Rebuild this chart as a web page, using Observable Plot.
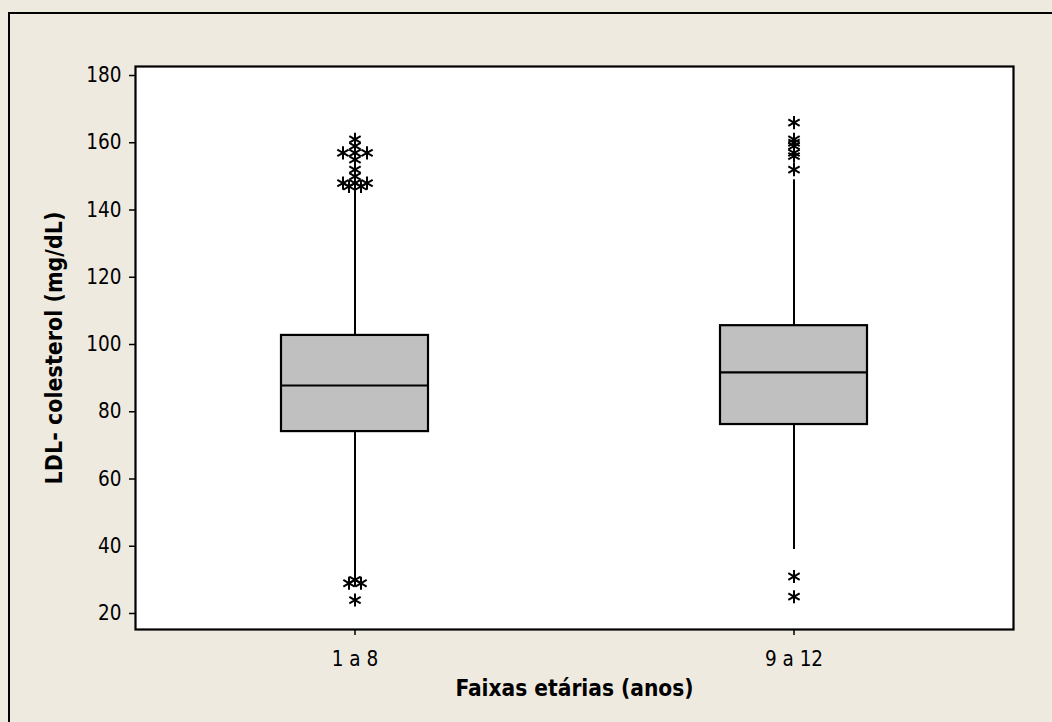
<!DOCTYPE html>
<html>
<head>
<meta charset="utf-8">
<script src="https://cdn.jsdelivr.net/npm/d3@7"></script>
<script src="https://cdn.jsdelivr.net/npm/@observablehq/plot@0.6"></script>
<style>
  html, body { margin: 0; padding: 0; background: #eeeae0; }
  #wrap { position: relative; width: 1052px; height: 722px; overflow: hidden; }
  #border { position: absolute; left: 8px; top: 12px; width: 1100px; height: 780px; border-top: 2px solid #000; border-left: 2px solid #000; pointer-events: none; }
</style>
</head>
<body>
<div id="wrap"><div id="border"></div></div>
<script>
// Age groups and LDL-cholesterol box summaries (mg/dL)
const grupos = ["1 a 8", "9 a 12"];
const q1 = [74.1, 76.2];
const mediana = [87.8, 91.7];
const q3 = [102.7, 105.6];
const bigodeInf = [31, 39];
const bigodeSup = [146, 149];

// Outlying observations per group (repeated values are drawn side by side)
const outliers18 = [161, 159, 157, 157, 157, 155, 152, 150, 148, 148, 148, 147, 147, 30, 29, 29, 24];
const outliers912 = [166, 161, 160, 159, 157, 156, 152, 31, 25];

const yTicks = [20, 40, 60, 80, 100, 120, 140, 160, 180];
const tituloY = "LDL- colesterol (mg/dL)";
const tituloX = "Faixas etárias (anos)";

const caixas = grupos.map((g, i) => ({
  grupo: g, q1: q1[i], mediana: mediana[i], q3: q3[i], lo: bigodeInf[i], hi: bigodeSup[i]
}));

// Tied values get a rank so they can be spread horizontally
function withTies(grupo, values) {
  const counts = d3.rollup(values, v => v.length, v => v);
  const seen = new Map();
  return values.map(v => {
    const n = counts.get(v);
    const k = seen.get(v) || 0;
    seen.set(v, k + 1);
    return { grupo, valor: v, off: k - (n - 1) / 2 };
  });
}
const pontos = [...withTies(grupos[0], outliers18), ...withTies(grupos[1], outliers912)];
const offsets = Array.from(new Set(pontos.map(d => d.off)));

const font = "'DejaVu Sans Condensed', 'DejaVu Sans', sans-serif";
const inset = 146;

const chart = Plot.plot({
  width: 1052,
  height: 722,
  marginLeft: 135,
  marginRight: 39,
  marginTop: 66,
  marginBottom: 93,
  style: { background: "transparent", fontFamily: font, fontSize: "20.5px", color: "#000" },
  x: { type: "band", domain: grupos, padding: 0 },
  y: { domain: [15.24, 182.68] },
  marks: [
    Plot.frame({ fill: "#ffffff" }),
    Plot.axisY({ ticks: yTicks, tickSize: 6, tickPadding: 8, label: null, fontSize: 20.5, strokeWidth: 1.5 }),
    Plot.axisX({ tickSize: 6, tickPadding: 16, label: null, fontSize: 20.5, strokeWidth: 1.5 }),
    Plot.ruleX(caixas, { x: "grupo", y1: "q3", y2: "hi", stroke: "#000", strokeWidth: 2 }),
    Plot.ruleX(caixas, { x: "grupo", y1: "lo", y2: "q1", stroke: "#000", strokeWidth: 2 }),
    Plot.barY(caixas, { x: "grupo", y1: "q1", y2: "q3", fill: "#c0c0c0", stroke: "#000", strokeWidth: 2.2, insetLeft: inset, insetRight: inset }),
    Plot.tickY(caixas, { x: "grupo", y: "mediana", stroke: "#000", strokeWidth: 2.2, insetLeft: inset, insetRight: inset }),
    ...offsets.map(o => Plot.dot(pontos, {
      filter: d => d.off === o, x: "grupo", y: "valor", dx: o * 12,
      symbol: "asterisk", r: 6.2, stroke: "#000", strokeWidth: 2
    })),
    Plot.frame({ stroke: "#000", strokeWidth: 2.2 }),
    Plot.text([tituloY], { frameAnchor: "left", textAnchor: "middle", dx: -81, rotate: -90, fontWeight: "bold", fontSize: 23, fill: "#000" }),
    Plot.text([tituloX], { frameAnchor: "bottom", dy: 66, fontWeight: "bold", fontSize: 22.5, fill: "#000" })
  ]
});
document.getElementById("wrap").prepend(chart);
</script>
</body>
</html>
